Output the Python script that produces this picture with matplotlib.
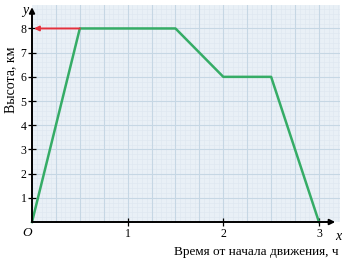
import matplotlib.pyplot as plt
import numpy as np

# flight profile: time (h) vs height (km)
time_h = [0, 0.5, 1.5, 2, 2.5, 3]
height_km = [0, 8, 8, 6, 6, 0]
x_ticks = [1, 2, 3]
y_ticks = [1, 2, 3, 4, 5, 6, 7, 8]

serif = ['Liberation Serif', 'DejaVu Serif']
green = '#35ac66'
red = '#e5303c'

fig = plt.figure(figsize=(3.44, 2.63), dpi=100)
ax = fig.add_axes([32 / 344, 41 / 263, 308 / 344, 217 / 263])
ax.set_xlim(0, 3.22)
ax.set_ylim(0, 8.97)
ax.set_facecolor('#e9f0f6')

# fine grid then coarse grid
for xv in np.arange(0.05, 3.22, 0.05):
    ax.axvline(xv, color='#dde7f0', lw=0.4, zorder=0)
for yv in np.arange(0.2, 8.97, 0.2):
    ax.axhline(yv, color='#dde7f0', lw=0.4, zorder=0)
for xv in np.arange(0.25, 3.22, 0.25):
    ax.axvline(xv, color='#c6d7e4', lw=0.8, zorder=1)
for yv in range(1, 9):
    ax.axhline(yv, color='#c6d7e4', lw=0.8, zorder=1)

for s in ax.spines.values():
    s.set_visible(False)

# axes with arrows
ax.annotate('', xy=(3.17, 0), xytext=(0, 0), annotation_clip=False,
            arrowprops=dict(arrowstyle='-|>', color='black', lw=1.4,
                            mutation_scale=8, shrinkA=0, shrinkB=0), zorder=5)
ax.annotate('', xy=(0, 8.88), xytext=(0, 0), annotation_clip=False,
            arrowprops=dict(arrowstyle='-|>', color='black', lw=1.4,
                            mutation_scale=8, shrinkA=0, shrinkB=0), zorder=5)

ax.plot(time_h, height_km, color=green, lw=1.8, zorder=4, clip_on=False)
ax.annotate('', xy=(0.02, height_km[1]), xytext=(time_h[1], height_km[1]),
            arrowprops=dict(arrowstyle='-|>', color=red, lw=1.4,
                            mutation_scale=7, shrinkA=0, shrinkB=0), zorder=5)

ax.set_xticks(x_ticks)
ax.set_yticks(y_ticks)
ax.tick_params(direction='inout', length=6, width=0.9, color='black',
               labelsize=8.5, pad=1)
for lab in ax.get_xticklabels() + ax.get_yticklabels():
    lab.set_family(serif)

ax.text(-0.05, -0.45, 'O', family=serif, style='italic', fontsize=9.5,
        ha='center', va='center')
ax.text(-0.04, 8.75, 'y', family=serif, style='italic', fontsize=10,
        ha='right', va='center')
ax.text(3.2, -0.6, 'x', family=serif, style='italic', fontsize=10,
        ha='center', va='center')

fig.text(11 / 344, 1 - 80 / 263, 'Высота, км', family=serif, fontsize=10,
         rotation=90, ha='center', va='center')
fig.text(338 / 344, 1 - 252 / 263, 'Время от начала движения, ч',
         family=serif, fontsize=9.5, ha='right', va='center')

fig.savefig('out.png', dpi=100)
